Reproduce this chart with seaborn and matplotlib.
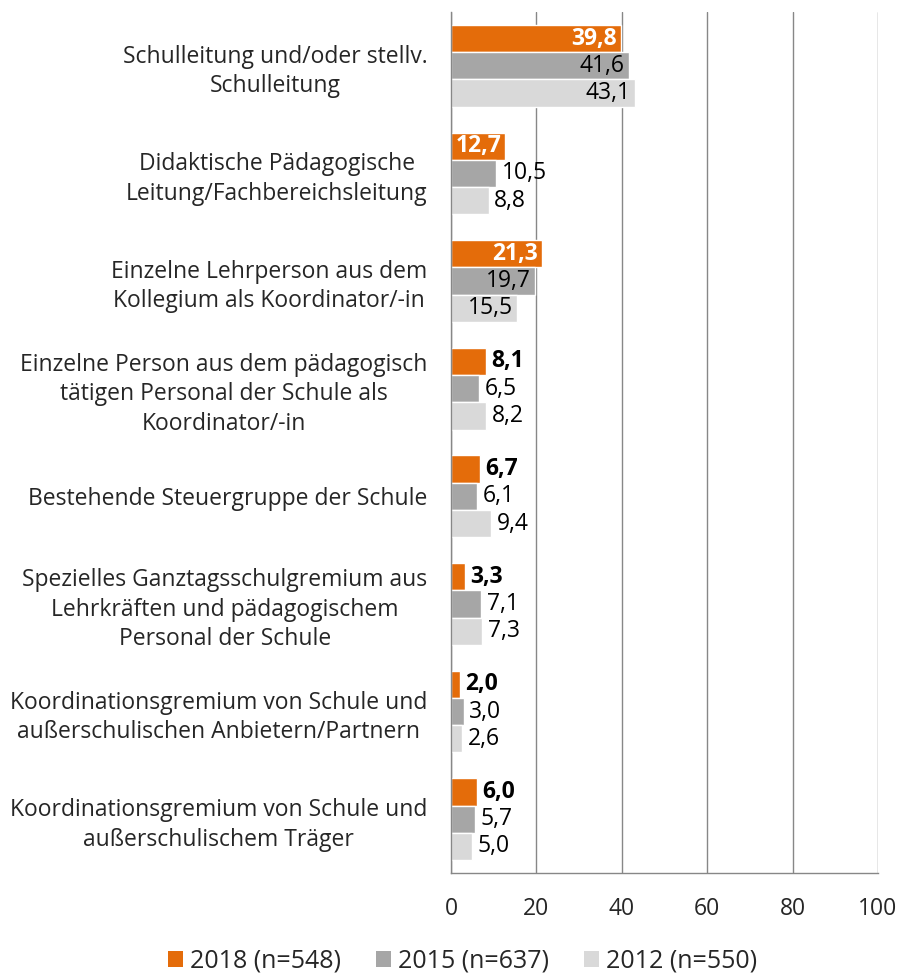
import pandas as pd
import seaborn as sns
import matplotlib.pyplot as plt
from matplotlib.patches import Patch
from matplotlib.ticker import FixedLocator

categories = [
    "Schulleitung und/oder stellv.\nSchulleitung",
    "Didaktische Pädagogische\nLeitung/Fachbereichsleitung",
    "Einzelne Lehrperson aus dem\nKollegium als Koordinator/-in",
    "Einzelne Person aus dem pädagogisch\ntätigen Personal der Schule als\nKoordinator/-in",
    "Bestehende Steuergruppe der Schule",
    "Spezielles Ganztagsschulgremium aus\nLehrkräften und pädagogischem\nPersonal der Schule",
    "Koordinationsgremium von Schule und\naußerschulischen Anbietern/Partnern",
    "Koordinationsgremium von Schule und\naußerschulischem Träger",
]
years = ["2018 (n=548)", "2015 (n=637)", "2012 (n=550)"]
v2018 = [39.8, 12.7, 21.3, 8.1, 6.7, 3.3, 2.0, 6.0]
v2015 = [41.6, 10.5, 19.7, 6.5, 6.1, 7.1, 3.0, 5.7]
v2012 = [43.1, 8.8, 15.5, 8.2, 9.4, 7.3, 2.6, 5.0]
colors = ["#E46C0A", "#A6A6A6", "#D9D9D9"]

rows = []
for vals, yr in zip([v2018, v2015, v2012], years):
    for c, v in zip(categories, vals):
        rows.append({"cat": c, "year": yr, "value": v})
df = pd.DataFrame(rows)

sns.set_style("white")
plt.rcParams['font.family'] = ['Open Sans', 'DejaVu Sans']

fig = plt.figure(figsize=(9.01, 9.75), dpi=100)
ax = fig.add_axes([0.5006, 0.1046, 0.4739, 0.8831])

sns.barplot(data=df, y="cat", x="value", hue="year", palette=colors,
            orient="h", width=0.76, saturation=1, legend=False, ax=ax)

ax.set_xlim(0, 100)
ax.set_ylim(len(categories) - 0.5, -0.5)
ax.set_xticks(range(0, 101, 20))
ax.set_xlabel("")
ax.set_ylabel("")
ax.grid(axis="x", color="#878787", linewidth=1.0)
ax.set_axisbelow(True)
for s in ["top", "right"]:
    ax.spines[s].set_visible(False)
for s in ["left", "bottom"]:
    ax.spines[s].set_color("#878787")
    ax.spines[s].set_linewidth(1.0)

ax.tick_params(axis="x", direction="out", length=6, color="#878787",
               labelsize=16.5, pad=11, width=1.0)
ax.tick_params(axis="y", which="major", length=0, labelsize=16.5, pad=17)
ax.yaxis.set_minor_locator(FixedLocator([i - 0.5 for i in range(len(categories) + 1)]))
ax.tick_params(axis="y", which="minor", direction="out", length=6,
               color="#878787", width=1.0)
for lab in ax.get_yticklabels():
    lab.set_multialignment("center")
    lab.set_linespacing(1.3)

fs = 16.5
for i, cont in enumerate(ax.containers):
    for bar, v in zip(cont, [v2018, v2015, v2012][i]):
        y = bar.get_y() + bar.get_height() / 2
        txt = f"{v:.1f}".replace(".", ",")
        bold = "bold" if i == 0 else "normal"
        if v >= 12:
            col = "white" if i == 0 else "black"
            ax.annotate(txt, (v, y), xytext=(-3, 0), textcoords="offset points",
                        ha="right", va="center", fontsize=fs, color=col,
                        fontweight=bold)
        else:
            ax.annotate(txt, (v, y), xytext=(4, 0), textcoords="offset points",
                        ha="left", va="center", fontsize=fs, color="black",
                        fontweight=bold)

handles = [Patch(facecolor=c, edgecolor="none", label=y) for c, y in zip(colors, years)]
fig.legend(handles=handles, loc="center", bbox_to_anchor=(0.513, 0.014), ncol=3,
           frameon=False, fontsize=18, handlelength=0.6, handleheight=0.6,
           handletextpad=0.28, columnspacing=1.4, borderpad=0)

fig.savefig("out.png", dpi=100)
